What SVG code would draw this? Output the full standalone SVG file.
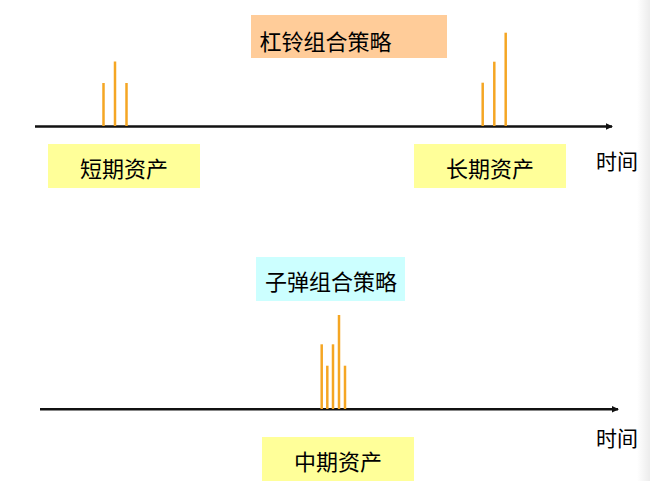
<svg xmlns="http://www.w3.org/2000/svg" width="650" height="481" viewBox="0 0 650 481">
<style>
.axis{stroke:#111;stroke-width:2.5;fill:none}
.bar{stroke:#F5A623;stroke-width:2.5}
.lbl{font-family:"Noto Sans CJK SC","Liberation Sans",sans-serif;font-size:22px;fill:#000;text-anchor:middle;dominant-baseline:central}
.t{font-family:"Noto Sans CJK SC","Liberation Sans",sans-serif;font-size:21px;fill:#000}
</style>
<defs>
<marker id="arr" markerWidth="8" markerHeight="8" refX="6" refY="4" orient="auto" markerUnits="userSpaceOnUse">
<path d="M0,0.8 L7,4 L0,7.2 Z" fill="#111"/>
</marker>
<linearGradient id="edge" x1="0" y1="0" x2="1" y2="0">
<stop offset="0" stop-color="#fff"/>
<stop offset="1" stop-color="#ececec"/>
</linearGradient>
</defs>
<rect x="0" y="0" width="650" height="481" fill="#fff"/>
<rect x="637" y="0" width="13" height="481" fill="url(#edge)"/>
<g id="connectors">
<line class="axis" x1="35" y1="126.5" x2="612" y2="126.5" marker-end="url(#arr)"/>
<line class="axis" x1="40" y1="409.3" x2="618" y2="409.3" marker-end="url(#arr)"/>
</g>
<g id="barbell-bars">
<line class="bar" x1="103.5" y1="83" x2="103.5" y2="126"/>
<line class="bar" x1="115" y1="61.5" x2="115" y2="126"/>
<line class="bar" x1="126.5" y1="83" x2="126.5" y2="126"/>
<line class="bar" x1="482.7" y1="82.7" x2="482.7" y2="126"/>
<line class="bar" x1="494.3" y1="61.7" x2="494.3" y2="126"/>
<line class="bar" x1="505.7" y1="32.7" x2="505.7" y2="126"/>
</g>
<g id="bullet-bars">
<line class="bar" x1="321.7" y1="344.3" x2="321.7" y2="409"/>
<line class="bar" x1="327.3" y1="365.7" x2="327.3" y2="409"/>
<line class="bar" x1="333" y1="344.3" x2="333" y2="409"/>
<line class="bar" x1="339" y1="315" x2="339" y2="409"/>
<line class="bar" x1="345" y1="365.7" x2="345" y2="409"/>
</g>
<g id="barbell-title">
<rect x="251" y="15" width="196" height="43" fill="#FFCC99"/>
<text class="lbl" x="325.5" y="40">杠铃组合策略</text>
</g>
<g id="short-term">
<rect x="48" y="144" width="152" height="44" fill="#FFFF99"/>
<text class="lbl" x="124" y="167">短期资产</text>
</g>
<g id="long-term">
<rect x="414" y="144" width="152" height="44" fill="#FFFF99"/>
<text class="lbl" x="490" y="167">长期资产</text>
</g>
<g id="time-top">
<text class="t" x="596" y="169">时间</text>
</g>
<g id="bullet-title">
<rect x="256" y="257" width="149" height="44" fill="#CCFFFF"/>
<text class="lbl" x="331" y="280">子弹组合策略</text>
</g>
<g id="mid-term">
<rect x="262" y="437" width="152" height="44" fill="#FFFF99"/>
<text class="lbl" x="338" y="460">中期资产</text>
</g>
<g id="time-bottom">
<text class="t" x="596" y="446">时间</text>
</g>
</svg>
